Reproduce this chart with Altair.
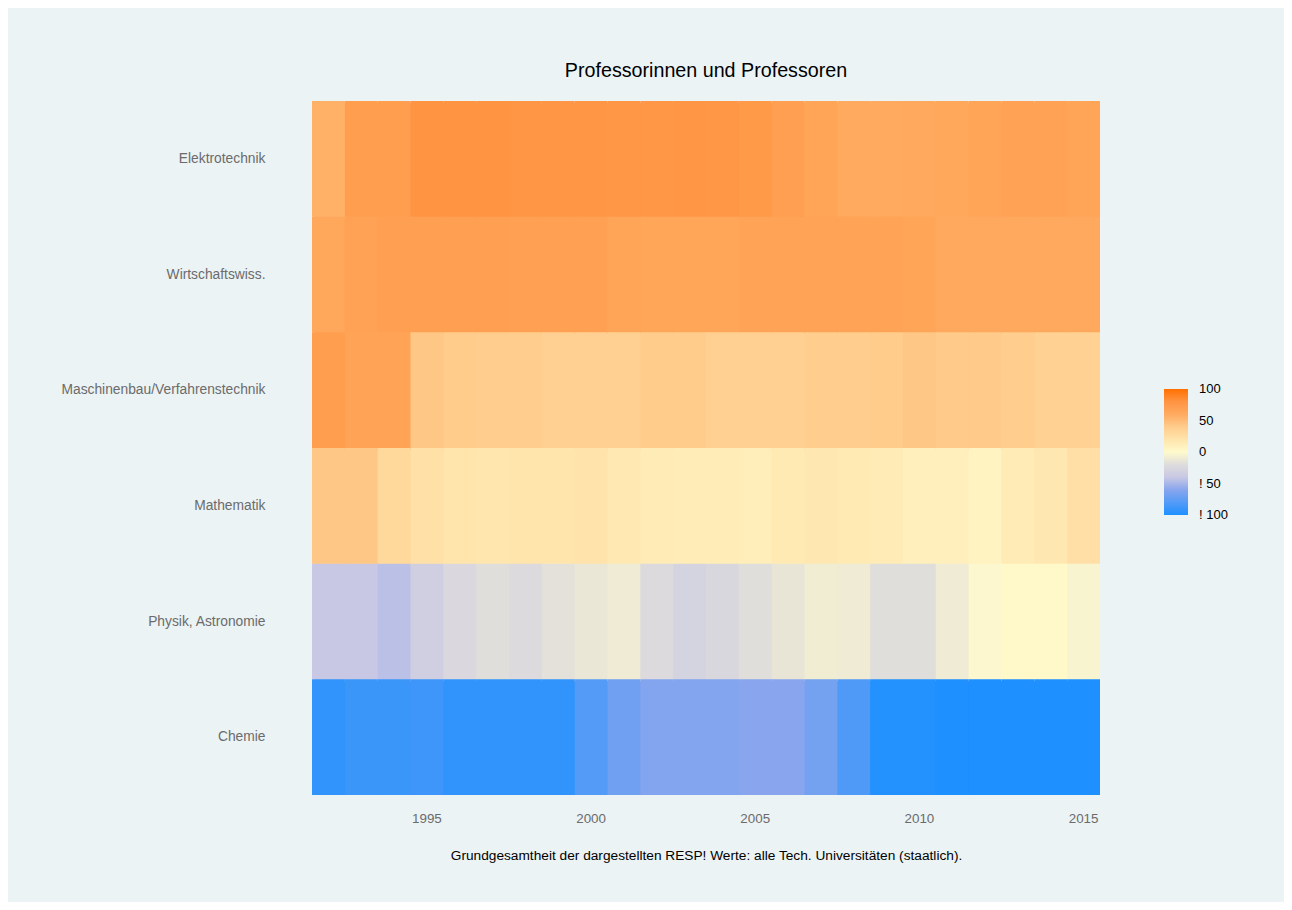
import altair as alt
import pandas as pd

years = list(range(1992, 2016))
categories = ["Elektrotechnik", "Wirtschaftswiss.", "Maschinenbau/Verfahrenstechnik",
              "Mathematik", "Physik, Astronomie", "Chemie"]

elektrotechnik = [56, 71, 71, 80, 80, 79, 78, 78, 78, 77, 77, 78, 77, 75, 70, 65, 60, 60, 61, 63, 65, 67, 67, 65]
wirtschaft = [63, 67, 70, 70, 70, 70, 69, 69, 69, 65, 64, 64, 64, 66, 66, 66, 66, 66, 65, 61, 61, 61, 61, 61]
maschinenbau = [71, 66, 66, 43, 40, 39, 38, 37, 37, 37, 40, 40, 37, 37, 37, 39, 39, 40, 43, 41, 41, 39, 36, 35]
mathematik = [43, 43, 30, 23, 20, 18, 20, 20, 21, 16, 14, 13, 13, 11, 15, 17, 15, 14, 10, 10, 6, 14, 17, 24]
physik = [-40, -40, -44, -33, -24, -19, -22, -17, -13, -10, -22, -29, -25, -19, -14, -9, -10, -19, -19, -10, -2, 1, 1, -4]
chemie = [-93, -89, -89, -88, -93, -93, -93, -93, -80, -69, -62, -62, -62, -60, -60, -67, -81, -98, -98, -100, -100, -100, -100, -100]

series = [elektrotechnik, wirtschaft, maschinenbau, mathematik, physik, chemie]

rows = []
for cat, vals in zip(categories, series):
    for y, v in zip(years, vals):
        rows.append({"Fach": cat, "Jahr": y, "Wert": v})
df = pd.DataFrame(rows)

color_domain = [-100, -60, -40, -20, 0, 20, 40, 60, 80, 100]
color_range = ["#1E90FF", "#88A5EE", "#C8C8E4", "#DEDCDC", "#FFFACC",
               "#FFE4AC", "#FFCC8C", "#FFAA5F", "#FF9442", "#FF7000"]
legend_values = [-99.5, -50, 0, 50, 99.5]

FONT = "Liberation Sans"
caption = "Grundgesamtheit der dargestellten RESP! Werte: alle Tech. Universitäten (staatlich)."

x_enc = alt.X("Jahr:O",
              scale=alt.Scale(paddingInner=0, paddingOuter=0),
              axis=alt.Axis(values=[1995, 2000, 2005, 2010, 2015], labelAngle=0,
                            ticks=False, domain=False, grid=False,
                            labelColor="#6B6B6B", labelFontSize=13.4, labelFont=FONT,
                            labelPadding=16,
                            title=caption, titleFont=FONT, titleFontSize=13.7,
                            titleFontWeight="normal", titleColor="#000000",
                            titlePadding=24))
y_enc = alt.Y("Fach:N", sort=categories,
              scale=alt.Scale(paddingInner=0, paddingOuter=0),
              axis=alt.Axis(ticks=False, domain=False, grid=False, title=None,
                            labelColor="#6B6B6B", labelFontSize=13.8, labelFont=FONT,
                            labelPadding=47, labelLimit=0))
c_enc = alt.Color("Wert:Q",
                  scale=alt.Scale(domain=color_domain, range=color_range, interpolate="rgb"),
                  legend=alt.Legend(type="gradient", orient="none",
                                    legendX=852, legendY=288, title=None,
                                    direction="vertical",
                                    gradientLength=126, gradientThickness=24,
                                    gradientStrokeWidth=0,
                                    values=legend_values,
                                    labelExpr="datum.value < 0 ? '! ' + round(abs(datum.value)) : '' + round(datum.value)",
                                    labelFont=FONT, labelFontSize=13,
                                    labelColor="#000000", labelOffset=11))

base = alt.Chart(df)
under = base.mark_rect(xOffset=2, yOffset=2, clip=True).encode(x=x_enc, y=y_enc, color=c_enc)
top = base.mark_rect().encode(x=x_enc, y=y_enc, color=c_enc)

chart = alt.layer(under, top).properties(
    width=788,
    height=694,
    title=alt.TitleParams("Professorinnen und Professoren", font=FONT, fontSize=19.7,
                          fontWeight="normal", color="#000000", anchor="middle",
                          offset=20),
    background="#EBF3F5",
    padding={"left": 304, "top": 93, "right": 184, "bottom": 107},
    autosize=alt.AutoSizeParams(type="none"),
).configure_view(stroke=None)

chart.save("out.html", embed_options={"renderer": "svg", "actions": False})
